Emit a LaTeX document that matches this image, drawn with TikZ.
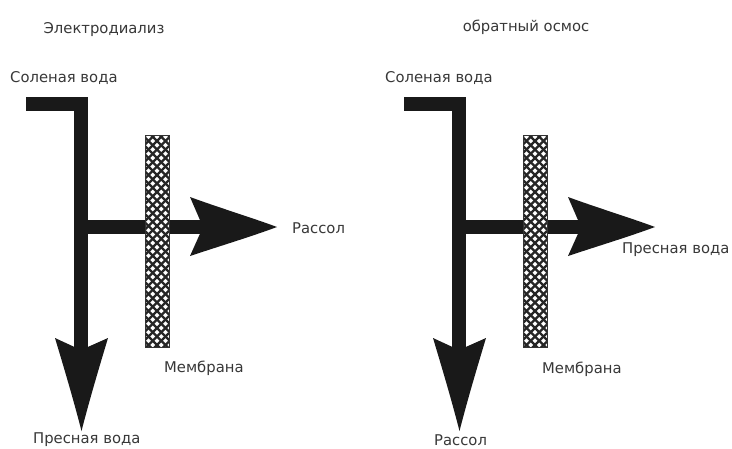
\documentclass[tikz,border=0pt]{standalone}
\usepackage{fontspec}
\setmainfont{DejaVu Sans}
\begin{document}
\begin{tikzpicture}[x=1pt,y=-1pt,
  lbl/.style={inner sep=0pt,text=black!78,font=\fontsize{14.8}{17}\selectfont},
  pipe/.style={fill=black!90,draw=none},
  membr/.style={draw=black!80,line width=1pt},
  mesh/.style={black!85,line width=2.2pt}]
\useasboundingbox (0,0) rectangle (732,448);
\fill[white] (0,0) rectangle (732,448);
\foreach \dx/\nm in {0/L,378/R}{
  \begin{scope}[xshift=\dx]
    % pipes
    \fill[pipe] (26,97) rectangle (88,111);
    \fill[pipe] (74,97) rectangle (88,350);
    \fill[pipe] (88,220) rectangle (205,234);
    \fill[pipe] (190,197) .. controls (220,208) and (250,217) .. (277,227)
       .. controls (250,237) and (220,246) .. (190,256) -- (203,227) -- cycle;
    \fill[pipe] (55,338) -- (81,350) -- (108,338)
       .. controls (99,368) and (90,398) .. (81.5,431)
       .. controls (73,398) and (64,368) .. (55,338) -- cycle;
    % membrane
    \coordinate (m1\nm) at (145,135);
    \coordinate (m2\nm) at (169,347);
    \fill[white] (m1\nm) rectangle (m2\nm);
    \begin{scope}
      \clip (m1\nm) rectangle (m2\nm);
      \foreach \k in {-40,-31.5,...,360}{
        \draw[mesh] (145,135+\k) -- ++(30,30);
        \draw[mesh] (169,135+\k) -- ++(-30,30);
      }
    \end{scope}
    \draw[membr] (m1\nm) rectangle (m2\nm);
  \end{scope}
}
% labels left
\node[lbl] (t1) at (104,30) {Электродиализ};
\node[lbl,anchor=west] (s1) at (10,78) {Соленая вода};
\node[lbl,anchor=west] (r1) at (292,228) {Рассол};
\node[lbl,anchor=west] (mb1) at (164,368) {Мембрана};
\node[lbl,anchor=west] (p1) at (33,440) {Пресная вода};
% labels right
\node[lbl] (t2) at (526,27) {обратный осмос};
\node[lbl,anchor=west] (s2) at (385,78) {Соленая вода};
\node[lbl,anchor=west] (p2) at (622,250) {Пресная вода};
\node[lbl,anchor=west] (mb2) at (542,369) {Мембрана};
\node[lbl,anchor=west] (r2) at (434,440) {Рассол};
\end{tikzpicture}
\end{document}
